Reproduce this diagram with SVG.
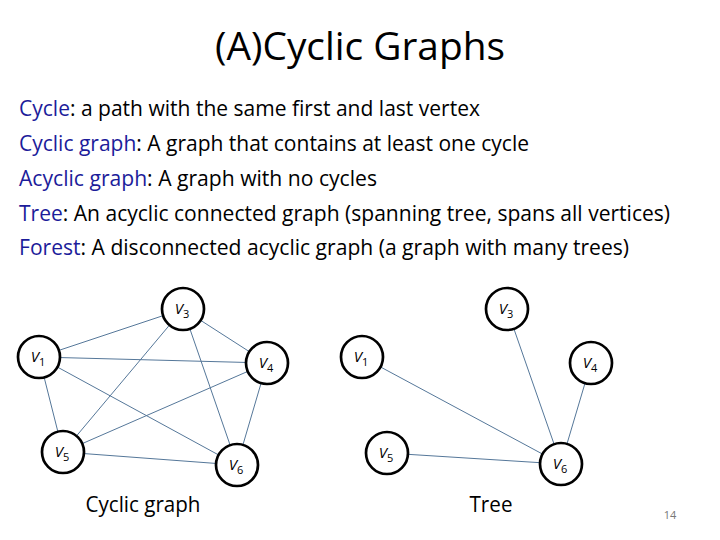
<svg xmlns="http://www.w3.org/2000/svg" width="720" height="540" viewBox="0 0 720 540">
<style>
.t{font-family:"Open Sans","Noto Sans","Liberation Sans",sans-serif;fill:#000}
.b{fill:#1c1c9a}
.e{stroke:#557799;stroke-width:1;fill:none}
.n circle{fill:#fff;stroke:#000;stroke-width:2.7}
.n text{font-family:"Open Sans","Liberation Sans",sans-serif;font-style:italic;font-size:15px;fill:#000;text-anchor:middle}
.n tspan.s{font-size:11px;font-style:normal}
</style>
<rect width="720" height="540" fill="#fff"/>
<text class="t" x="360" y="60" font-size="38" text-anchor="middle" textLength="290" lengthAdjust="spacingAndGlyphs">(A)Cyclic Graphs</text>
<g class="t" font-size="21">
<text x="19" y="116" textLength="461" lengthAdjust="spacingAndGlyphs"><tspan class="b">Cycle</tspan>: a path with the same first and last vertex</text>
<text x="19" y="151" textLength="510" lengthAdjust="spacingAndGlyphs"><tspan class="b">Cyclic graph</tspan>: A graph that contains at least one cycle</text>
<text x="19" y="186" textLength="358" lengthAdjust="spacingAndGlyphs"><tspan class="b">Acyclic graph</tspan>: A graph with no cycles</text>
<text x="19" y="221" textLength="651" lengthAdjust="spacingAndGlyphs"><tspan class="b">Tree</tspan>: An acyclic connected graph (spanning tree, spans all vertices)</text>
<text x="19" y="255" textLength="610" lengthAdjust="spacingAndGlyphs"><tspan class="b">Forest</tspan>: A disconnected acyclic graph (a graph with many trees)</text>
</g>
<g id="connectors">
<line class="e" x1="39" y1="357" x2="183" y2="309"/>
<line class="e" x1="39" y1="357" x2="267" y2="363"/>
<line class="e" x1="39" y1="357" x2="63" y2="452"/>
<line class="e" x1="39" y1="357" x2="237" y2="465"/>
<line class="e" x1="183" y1="309" x2="267" y2="363"/>
<line class="e" x1="183" y1="309" x2="63" y2="452"/>
<line class="e" x1="183" y1="309" x2="237" y2="465"/>
<line class="e" x1="267" y1="363" x2="63" y2="452"/>
<line class="e" x1="267" y1="363" x2="237" y2="465"/>
<line class="e" x1="63" y1="452" x2="237" y2="465"/>
<line class="e" x1="362" y1="357" x2="561" y2="464"/>
<line class="e" x1="507" y1="309" x2="561" y2="464"/>
<line class="e" x1="591" y1="363" x2="561" y2="464"/>
<line class="e" x1="387" y1="453" x2="561" y2="464"/>
</g>
<g id="c-v3" class="n"><circle cx="183" cy="309" r="21"/><text x="182" y="314">V<tspan class="s" dy="4">3</tspan></text></g>
<g id="c-v1" class="n"><circle cx="39" cy="357" r="21"/><text x="38" y="362">V<tspan class="s" dy="4">1</tspan></text></g>
<g id="c-v4" class="n"><circle cx="267" cy="363" r="21"/><text x="266" y="368">V<tspan class="s" dy="4">4</tspan></text></g>
<g id="c-v5" class="n"><circle cx="63" cy="452" r="21"/><text x="62" y="457">V<tspan class="s" dy="4">5</tspan></text></g>
<g id="c-v6" class="n"><circle cx="237" cy="465" r="21"/><text x="236" y="470">V<tspan class="s" dy="4">6</tspan></text></g>
<g id="t-v3" class="n"><circle cx="507" cy="309" r="21"/><text x="506" y="314">V<tspan class="s" dy="4">3</tspan></text></g>
<g id="t-v1" class="n"><circle cx="362" cy="357" r="21"/><text x="361" y="362">V<tspan class="s" dy="4">1</tspan></text></g>
<g id="t-v4" class="n"><circle cx="591" cy="363" r="21"/><text x="590" y="368">V<tspan class="s" dy="4">4</tspan></text></g>
<g id="t-v5" class="n"><circle cx="387" cy="453" r="21"/><text x="386" y="458">V<tspan class="s" dy="4">5</tspan></text></g>
<g id="t-v6" class="n"><circle cx="561" cy="464" r="21"/><text x="560" y="469">V<tspan class="s" dy="4">6</tspan></text></g>
<text class="t" x="143" y="512" font-size="21" text-anchor="middle" textLength="115" lengthAdjust="spacingAndGlyphs">Cyclic graph</text>
<text class="t" x="491" y="512" font-size="21" text-anchor="middle" textLength="43" lengthAdjust="spacingAndGlyphs">Tree</text>
<text class="t" x="670" y="519" font-size="11" text-anchor="middle" fill="#777" style="fill:#777">14</text>
</svg>
